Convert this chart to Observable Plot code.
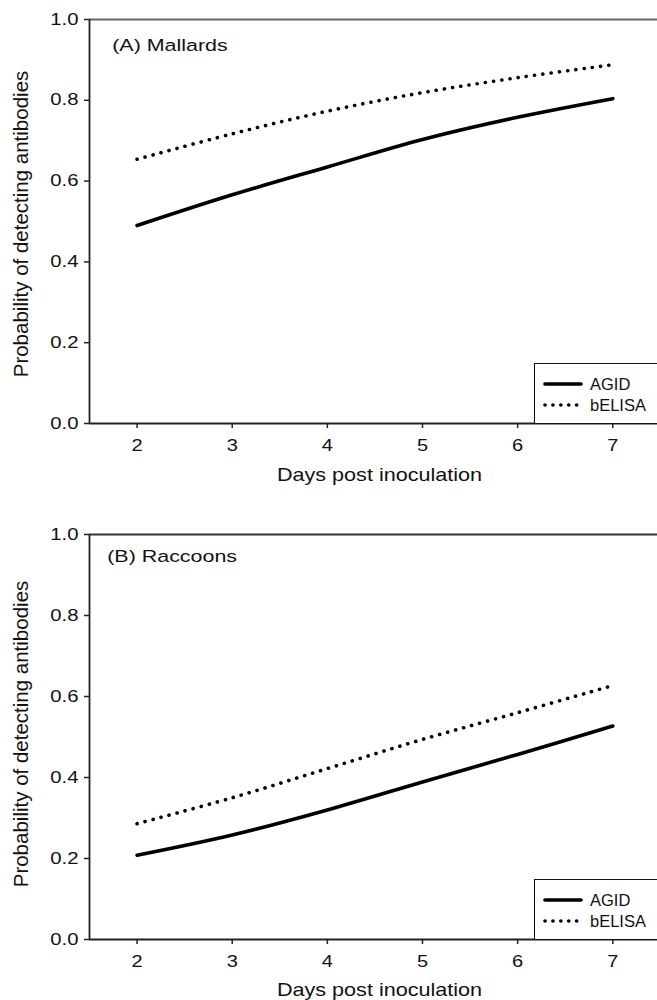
<!DOCTYPE html>
<html>
<head>
<meta charset="utf-8">
<script src="https://cdn.jsdelivr.net/npm/d3@7"></script>
<script src="https://cdn.jsdelivr.net/npm/@observablehq/plot@0.6"></script>
<style>
  html, body { margin: 0; padding: 0; background: #fff; }
  body { width: 657px; font-family: "Liberation Sans", Arial, sans-serif; }
  .panel { position: relative; width: 657px; height: 500px; overflow: hidden; }
  .panel svg.plot { display: block; }
  .legend { position: absolute; left: 534px; width: 140px; height: 61px;
            border: 1.6px solid #111; border-right: none; background: #fff; box-sizing: border-box; }
</style>
</head>
<body>
<div id="chart"></div>
<script>
// ---- data ----
const days = [2, 3, 4, 5, 6, 7];
const mallardsAGID   = [0.490, 0.566, 0.635, 0.703, 0.758, 0.804];
const mallardsBELISA = [0.654, 0.717, 0.773, 0.819, 0.856, 0.888];
const raccoonsAGID   = [0.208, 0.258, 0.320, 0.389, 0.457, 0.527];
const raccoonsBELISA = [0.286, 0.350, 0.422, 0.494, 0.560, 0.627];
const panelTitles = ["(A) Mallards", "(B) Raccoons"];
const seriesNames = ["AGID", "bELISA"];
const xTicks = [2, 3, 4, 5, 6, 7];
const yTicks = [0, 0.2, 0.4, 0.6, 0.8, 1.0];
const xLabel = "Days post inoculation";
const yLabel = "Probability of detecting antibodies";

// ---- layout (not data) ----
const xDomain = [1.5, 7.47];
const yDomain = [0, 1];
const panels = [
  {title: panelTitles[0], agid: mallardsAGID, belisa: mallardsBELISA,
   marginTop: 19, marginBottom: 77, titleDx: 22.7, titleDy: 19.3, topStroke: "#666", xLabelDy: 52.2, yLabelDy: 2.5},
  {title: panelTitles[1], agid: raccoonsAGID, belisa: raccoonsBELISA,
   marginTop: 34, marginBottom: 61, titleDx: 17.7, titleDy: 15.7, topStroke: "#333", xLabelDy: 51, yLabelDy: -3}
];

function rows(values, name) {
  return days.map((d, i) => ({day: d, value: values[i], series: name}));
}

function lenPx(v, fs) {
  if (v == null || v === "") return 0;
  const n = parseFloat(v);
  if (isNaN(n)) return 0;
  return String(v).trim().endsWith("em") ? n * fs : n;
}

// horizontal stretch of one text's glyphs about its own anchor point
function stretchText(t, sx) {
  const fs = parseFloat(getComputedStyle(t).fontSize) || 16;
  const ax = lenPx(t.getAttribute("x"), fs) + lenPx(t.getAttribute("dx"), fs);
  const ay = lenPx(t.getAttribute("y"), fs);
  const tr = t.getAttribute("transform") || "";
  t.setAttribute("transform", `${tr} translate(${ax},${ay}) scale(${sx},1) translate(${-ax},${-ay})`.trim());
}
function stretch(svg, selector, sx) {
  svg.querySelectorAll(selector).forEach(t => stretchText(t, sx));
}
function stretchByContent(svg, content, sx) {
  svg.querySelectorAll("text").forEach(t => { if (t.textContent === content) stretchText(t, sx); });
}

const root = document.getElementById("chart");

panels.forEach(p => {
  const div = document.createElement("div");
  div.className = "panel";
  root.appendChild(div);

  const svg = Plot.plot({
    width: 657,
    height: 500,
    marginLeft: 89,
    marginRight: 0,
    marginTop: p.marginTop,
    marginBottom: p.marginBottom,
    className: "plot",
    style: {fontFamily: "'Liberation Sans', Arial, sans-serif", color: "#111", background: "#fff"},
    x: {domain: xDomain},
    y: {domain: yDomain},
    marks: [
      Plot.axisX(xTicks, {tickSize: 5, tickPadding: 11.5, fontSize: 16, label: null, stroke: "#222", strokeWidth: 1.5, fill: "#111"}),
      Plot.axisY(yTicks, {tickSize: 5, tickPadding: 6, fontSize: 16, label: null, tickFormat: d3.format(".1f"), stroke: "#222", strokeWidth: 1.5, fill: "#111"}),
      Plot.ruleY([yDomain[1]], {stroke: p.topStroke, strokeWidth: 2}),
      Plot.ruleY([yDomain[0]], {stroke: "#222", strokeWidth: 1.8}),
      Plot.ruleX([xDomain[0]], {stroke: "#222", strokeWidth: 1.8}),
      Plot.line(rows(p.belisa, seriesNames[1]), {x: "day", y: "value", curve: "catmull-rom",
        stroke: "#000", strokeWidth: 3.6, strokeDasharray: "0.1,8.2", strokeLinecap: "round"}),
      Plot.line(rows(p.agid, seriesNames[0]), {x: "day", y: "value", curve: "catmull-rom",
        stroke: "#000", strokeWidth: 3.6, strokeLinecap: "round"}),
      Plot.text([p.title], {frameAnchor: "top-left", textAnchor: "start", lineAnchor: "top",
        dx: p.titleDx, dy: p.titleDy, fontSize: 16.5, fill: "#111"}),
      Plot.text([xLabel], {frameAnchor: "bottom", textAnchor: "middle", lineAnchor: "middle", dx: 6, dy: p.xLabelDy,
        fontSize: 18, fill: "#111"}),
      Plot.text([yLabel], {frameAnchor: "left", textAnchor: "middle", lineAnchor: "middle", rotate: -90, dx: -68.4, dy: p.yLabelDy,
        fontSize: 20.5, fill: "#111"})
    ]
  });
  div.appendChild(svg);

  stretch(svg, 'g[aria-label="y-axis tick label"] text', 1.27);
  stretch(svg, 'g[aria-label="x-axis tick label"] text', 1.25);
  stretchByContent(svg, p.title, 1.3);
  stretchByContent(svg, xLabel, 1.2);

  // legend box (inside the plot frame, bottom-right, cut by the right edge as in the reference)
  const leg = document.createElement("div");
  leg.className = "legend";
  leg.style.bottom = (p.marginBottom - 0.8) + "px";
  div.appendChild(leg);
  const ls = d3.select(leg).append("svg").attr("width", 140).attr("height", 60)
    .style("display", "block").style("font-family", "'Liberation Sans', Arial, sans-serif");
  seriesNames.forEach((name, i) => {
    const y = 20 + i * 21;
    ls.append("line").attr("x1", 10).attr("x2", 46).attr("y1", y).attr("y2", y)
      .attr("stroke", "#000").attr("stroke-width", 3.6).attr("stroke-linecap", "round")
      .attr("stroke-dasharray", i === 0 ? null : "0.1,7.8");
    ls.append("text").attr("x", 55).attr("y", y + 6.2).attr("font-size", 16.5).attr("fill", "#111").text(name);
  });
});
</script>
</body>
</html>
